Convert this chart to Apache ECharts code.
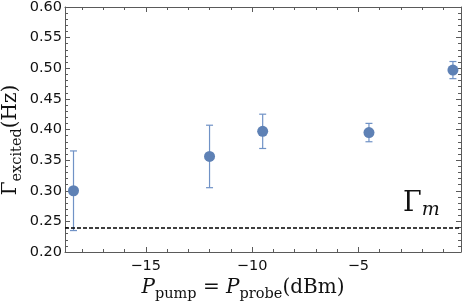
<!DOCTYPE html>
<html>
<head>
<meta charset="utf-8">
<script src="https://cdn.jsdelivr.net/npm/echarts@6/dist/echarts.min.js"></script>
<style>html,body{margin:0;padding:0;background:#fff}#c{width:463px;height:301px}</style>
</head>
<body>
<div id="c"></div>
<script>
// ---- data ----
const xVals = [-18.4, -12, -9.5, -4.5, -0.55];
const yVals = [0.300, 0.356, 0.397, 0.395, 0.497];
const yErr  = [0.065, 0.051, 0.028, 0.015, 0.014];
const gammaM = 0.237;
const xTickLabels = [-15, -10, -5];
const xMinorTicks = [-18, -17, -16, -14, -13, -12, -11, -9, -8, -7, -6, -4, -3, -2, -1];
const xRange = [-18.8, -0.17];
const yRange = [0.2, 0.6];
const yStep = 0.05;

// ---- styles ----
const frame = '#5a5a5a';
const blue = '#5E81B5';
const sans = 'DejaVu Sans';
const serif = 'DejaVu Serif';

const fmtMinus = v => String(v).replace('-', '\u2212');

const richMain = {
  g: {fontFamily: serif, fontSize: 20, lineHeight: 24, fill: '#111', verticalAlign: 'top'},
  i: {fontFamily: serif, fontStyle: 'italic', fontSize: 20, lineHeight: 24, fill: '#111', verticalAlign: 'top'},
  s: {fontFamily: serif, fontSize: 14.5, lineHeight: 11, fill: '#111', verticalAlign: 'bottom'}
};

function xAxisBase(pos, major) {
  return {
    type: 'value', gridIndex: 0, position: pos,
    min: xRange[0], max: xRange[1],
    axisLine: {show: major, onZero: false, lineStyle: {color: frame, width: 1}},
    axisTick: {show: true, inside: true, length: major ? 5 : 3,
      customValues: major ? xTickLabels : xMinorTicks,
      lineStyle: {color: frame, width: 1}},
    axisLabel: {show: false},
    splitLine: {show: false}
  };
}
function yAxisBase(pos, labels) {
  return {
    type: 'value', gridIndex: 0, position: pos,
    min: yRange[0], max: yRange[1], interval: yStep,
    axisLine: {show: true, onZero: false, lineStyle: {color: frame, width: 1}},
    axisTick: {show: true, inside: true, length: 5, lineStyle: {color: frame, width: 1}},
    minorTick: {show: true, splitNumber: 5, length: 3, lineStyle: {color: frame, width: 1}},
    axisLabel: {show: labels, formatter: v => v.toFixed(2), fontFamily: sans, fontSize: 14.5, color: '#111', margin: 3},
    splitLine: {show: false}
  };
}

const xa0 = xAxisBase('bottom', true);
xa0.axisLabel = {show: true, customValues: xTickLabels, formatter: fmtMinus,
  fontFamily: sans, fontSize: 14.5, color: '#111', margin: 7};

const option = {
  animation: false,
  grid: {left: 65, top: 7, right: 2, bottom: 49, containLabel: false, outerBoundsMode: 'none'},
  xAxis: [xa0, xAxisBase('bottom', false), xAxisBase('top', true), xAxisBase('top', false)],
  yAxis: [yAxisBase('left', true), yAxisBase('right', false)],
  series: [
    {
      type: 'custom', xAxisIndex: 0, yAxisIndex: 0,
      data: xVals.map((x, i) => [x, yVals[i], yErr[i]]),
      renderItem: function (params, api) {
        const x = api.value(0), y = api.value(1), e = api.value(2);
        const t = api.coord([x, y + e]);
        const b = api.coord([x, y - e]);
        const hw = 3.5;
        const st = {stroke: '#7092C6', lineWidth: 1.2};
        return {type: 'group', children: [
          {type: 'line', shape: {x1: t[0], y1: t[1], x2: b[0], y2: b[1]}, style: st},
          {type: 'line', shape: {x1: t[0] - hw, y1: t[1], x2: t[0] + hw, y2: t[1]}, style: st},
          {type: 'line', shape: {x1: b[0] - hw, y1: b[1], x2: b[0] + hw, y2: b[1]}, style: st}
        ]};
      },
      z: 2
    },
    {
      type: 'scatter', xAxisIndex: 0, yAxisIndex: 0,
      data: xVals.map((x, i) => [x, yVals[i]]),
      symbolSize: 11,
      itemStyle: {color: blue, opacity: 1},
      z: 3,
      markLine: {
        silent: true, symbol: 'none',
        label: {show: false},
        lineStyle: {color: '#000', type: [4, 2], width: 1.5},
        data: [{yAxis: gammaM}]
      }
    }
  ],
  graphic: [
    {
      type: 'text', x: 243, y: 290,
      style: {
        text: '{i|P}{s|pump}{g| = }{i|P}{s|probe}{g|(dBm)}',
        align: 'center', verticalAlign: 'middle',
        rich: richMain
      }
    },
    {
      type: 'text', x: 13, y: 140, rotation: Math.PI / 2,
      style: {
        text: '{g|\u0393}{s|excited}{g|(Hz)}',
        align: 'center', verticalAlign: 'middle',
        rich: richMain
      }
    },
    {
      type: 'text', left: 403, top: 190,
      style: {
        text: '{g|\u0393}{m|m}',
        rich: {
          g: {fontFamily: serif, fontSize: 27, lineHeight: 30, verticalAlign: 'top', fill: '#111'},
          m: {fontFamily: serif, fontStyle: 'italic', fontSize: 19, lineHeight: 18, verticalAlign: 'bottom', fill: '#111'}
        }
      }
    }
  ]
};

echarts.init(document.getElementById('c'), null, {renderer: 'canvas'}).setOption(option);
</script>
</body>
</html>
